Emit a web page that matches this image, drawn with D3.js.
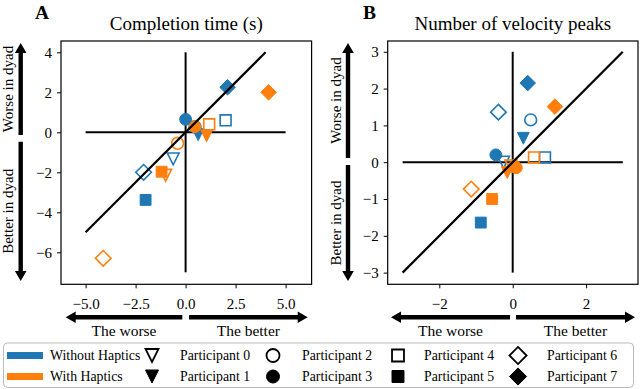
<!DOCTYPE html>
<html><head><meta charset="utf-8">
<script src="https://cdn.jsdelivr.net/npm/d3@7"></script>
<style>
body{margin:0;background:#fff}
svg{display:block;font-family:"Liberation Serif","Times New Roman",serif}
</style></head><body>
<svg id="c" width="640" height="389"></svg>
<script>
// ---- data ----
const participants = ["Participant 0","Participant 1","Participant 2","Participant 3","Participant 4","Participant 5","Participant 6","Participant 7"];
const shapes = ["triangle","triangle","circle","circle","square","square","diamond","diamond"];
const filled = [false,true,false,true,false,true,false,true];
const conditions = ["Without Haptics","With Haptics"];
const condColors = ["#1f77b4","#ff7f0e"];

// Completion time (s)
const timeWithoutX = [-0.62, 0.63, 0.47, 0.00, 2.00, -2.00, -2.10, 2.10];
const timeWithoutY = [-1.33, -0.12, 0.28, 0.65, 0.60, -3.38, -2.00, 2.25];
const timeWithX    = [-1.00, 1.05, -0.40, 0.47, 1.18, -1.20, -4.12, 4.15];
const timeWithY    = [-2.15, -0.18, -0.55, 0.28, 0.40, -1.97, -6.30, 2.00];

// Number of velocity peaks
const peaksWithoutX = [-0.25, 0.29, 0.49, -0.46, 0.88, -0.87, -0.39, 0.41];
const peaksWithoutY = [0.00, 0.65, 1.15, 0.20, 0.13, -1.64, 1.36, 2.15];
const peaksWithX    = [-0.05, -0.15, 0.05, 0.10, 0.58, -0.56, -1.13, 1.15];
const peaksWithY    = [-0.10, -0.28, -0.12, -0.15, 0.13, -1.00, -0.73, 1.51];

const timeXTicks = [-5, -2.5, 0, 2.5, 5];
const timeYTicks = [-6, -4, -2, 0, 2, 4];
const peaksXTicks = [-2, 0, 2];
const peaksYTicks = [-3, -2, -1, 0, 1, 2, 3];

const panelLabels = ["A","B"];
const panelTitles = ["Completion time (s)","Number of velocity peaks"];
const axisArrowTexts = ["Worse in dyad","Better in dyad","The worse","The better"];

// ---- drawing ----
const svg = d3.select("#c");
const minus = s => String(s).replace("-", "\u2212");

function markerPath(shape, size){
  if(shape==="circle"){const p=d3.path();p.arc(0,0,size/2,0,2*Math.PI);p.closePath();return p.toString();}
  if(shape==="square"){const s=size*0.46;return `M${-s},${-s}L${s},${-s}L${s},${s}L${-s},${s}Z`;}
  if(shape==="diamond"){const s=size*0.66;return `M0,${-s}L${s},0L0,${s}L${-s},0Z`;}
  if(shape==="triangle"){const w=size*0.5;return `M${-w},${-w}L${w},${-w}L0,${w}Z`;}
}

function arrow(g, x1, y1, x2, y2){
  const dx=x2-x1, dy=y2-y1, L=Math.hypot(dx,dy), ux=dx/L, uy=dy/L, nx=-uy, ny=ux;
  const sw=2.2, hw=5.8, hl=10;
  const bx=x2-ux*hl, by=y2-uy*hl;
  const pts=[[x1+nx*sw,y1+ny*sw],[bx+nx*sw,by+ny*sw],[bx+nx*hw,by+ny*hw],[x2,y2],[bx-nx*hw,by-ny*hw],[bx-nx*sw,by-ny*sw],[x1-nx*sw,y1-ny*sw]];
  g.append("path").attr("d","M"+pts.map(p=>p.join(",")).join("L")+"Z").attr("fill","#000");
}

function drawPanel(cfg){
  const g = svg.append("g");
  const x = d3.scaleLinear().domain(cfg.xDomain).range([cfg.left, cfg.right]);
  const y = d3.scaleLinear().domain(cfg.yDomain).range([cfg.bottom, cfg.top]);

  const xa = g.append("g").attr("transform",`translate(0,${cfg.bottom})`)
    .call(d3.axisBottom(x).tickValues(cfg.xTicks).tickSize(4).tickPadding(10.5).tickFormat(cfg.xFmt));
  const ya = g.append("g").attr("transform",`translate(${cfg.left},0)`)
    .call(d3.axisLeft(y).tickValues(cfg.yTicks).tickSize(4).tickPadding(5).tickFormat(d=>minus(d)));
  [xa,ya].forEach(a=>{
    a.select(".domain").remove();
    a.selectAll("text").attr("font-size",15).attr("fill","#000").attr("font-family","Liberation Serif");
    a.selectAll("line").attr("stroke","#000").attr("stroke-width",1);
  });

  g.append("line").attr("x1",x(cfg.hLine[0])).attr("x2",x(cfg.hLine[1])).attr("y1",y(0)).attr("y2",y(0))
    .attr("stroke","#000").attr("stroke-width",2);
  g.append("line").attr("x1",x(0)).attr("x2",x(0)).attr("y1",y(cfg.vLine[0])).attr("y2",y(cfg.vLine[1]))
    .attr("stroke","#000").attr("stroke-width",2);

  const series = [[cfg.wox,cfg.woy],[cfg.wx,cfg.wy]];
  series.forEach((s,ci)=>{
    participants.forEach((p,i)=>{
      const isF = filled[i];
      g.append("path").attr("d",markerPath(shapes[i], 11.8))
        .attr("transform",`translate(${x(s[0][i])},${y(s[1][i])})`)
        .attr("fill", isF?condColors[ci]:"none")
        .attr("stroke", condColors[ci]).attr("stroke-width", isF?1:1.6);
    });
  });

  g.append("line").attr("x1",x(cfg.diag[0])).attr("y1",y(cfg.diag[0])).attr("x2",x(cfg.diag[1])).attr("y2",y(cfg.diag[1]))
    .attr("stroke","#000").attr("stroke-width",2.2);

  g.append("rect").attr("x",cfg.left).attr("y",cfg.top).attr("width",cfg.right-cfg.left).attr("height",cfg.bottom-cfg.top)
    .attr("fill","none").attr("stroke","#000").attr("stroke-width",1.2);

  g.append("text").attr("x",(cfg.left+cfg.right)/2).attr("y",30).attr("text-anchor","middle").attr("font-size",19).text(cfg.title);
  g.append("text").attr("x",cfg.letterX).attr("y",18.5).attr("font-size",19.5).attr("font-weight","bold").text(cfg.letter);

  arrow(g, cfg.arrowX, cfg.gapTop, cfg.arrowX, cfg.upTip);
  arrow(g, cfg.arrowX, cfg.gapBottom, cfg.arrowX, cfg.downTip);
  const tx = cfg.arrowX-12.5;
  g.append("text").attr("transform",`translate(${tx},${(cfg.gapTop+cfg.upTip)/2}) rotate(-90)`)
    .attr("text-anchor","middle").attr("dominant-baseline","central").attr("font-size",15).text(axisArrowTexts[0]);
  g.append("text").attr("transform",`translate(${tx},${(cfg.gapBottom+cfg.downTip)/2}) rotate(-90)`)
    .attr("text-anchor","middle").attr("dominant-baseline","central").attr("font-size",15).text(axisArrowTexts[1]);

  const ay = 317.3;
  arrow(g, cfg.hArrow[1], ay, cfg.hArrow[0], ay);
  arrow(g, cfg.hArrow[2], ay, cfg.hArrow[3], ay);
  g.append("text").attr("x",(cfg.hArrow[0]+cfg.hArrow[1])/2).attr("y",336).attr("text-anchor","middle").attr("font-size",15.5).text(axisArrowTexts[2]);
  g.append("text").attr("x",(cfg.hArrow[2]+cfg.hArrow[3])/2).attr("y",336).attr("text-anchor","middle").attr("font-size",15.5).text(axisArrowTexts[3]);
}

drawPanel({
  left:61, right:311.6, top:41, bottom:284.3,
  xDomain:[-6.23,6.3], yDomain:[-7.6,4.565],
  xTicks:timeXTicks, yTicks:timeYTicks, xFmt:d=>minus(d3.format(".1f")(d)),
  hLine:[-5,5], vLine:[-7,4], diag:[-5,4],
  wox:timeWithoutX, woy:timeWithoutY, wx:timeWithX, wy:timeWithY,
  title:panelTitles[0], letter:panelLabels[0], letterX:35,
  arrowX:20.7, upTip:43, gapTop:135, gapBottom:141.7, downTip:281,
  hArrow:[65.7,182.3,189,307.7]
});
drawPanel({
  left:387.7, right:638, top:41, bottom:284.3,
  xDomain:[-3.406,3.414], yDomain:[-3.317,3.293],
  xTicks:peaksXTicks, yTicks:peaksYTicks, xFmt:d=>minus(d),
  hLine:[-3,3], vLine:[-3,3], diag:[-3,3],
  wox:peaksWithoutX, woy:peaksWithoutY, wx:peaksWithX, wy:peaksWithY,
  title:panelTitles[1], letter:panelLabels[1], letterX:363,
  arrowX:348, upTip:43, gapTop:158, gapBottom:165, downTip:281,
  hArrow:[391,510,516,635]
});

// ---- legend ----
const lg = svg.append("g");
lg.append("rect").attr("x",3.5).attr("y",343).attr("width",630).attr("height",44.5).attr("rx",4)
  .attr("fill","#fff").attr("stroke","#bbb").attr("stroke-width",1);
const rowY = [355.5, 376.5];
conditions.forEach((c,i)=>{
  lg.append("rect").attr("x",7).attr("y",rowY[i]-3.5).attr("width",36).attr("height",7).attr("fill",condColors[i]);
  lg.append("text").attr("x",50).attr("y",rowY[i]).attr("dominant-baseline","central").attr("font-size",13.8).text(c);
});
const colMarkerX = [152, 273, 398, 518];
const colTextX = [180, 302, 424, 547];
participants.forEach((p,i)=>{
  const col = Math.floor(i/2), row = i%2;
  lg.append("path").attr("d",markerPath(shapes[i],13))
    .attr("transform",`translate(${colMarkerX[col]},${rowY[row]})`)
    .attr("fill", filled[i]?"#000":"none").attr("stroke","#000").attr("stroke-width",filled[i]?1:1.8);
  lg.append("text").attr("x",colTextX[col]).attr("y",rowY[row]).attr("dominant-baseline","central").attr("font-size",13.8).text(p);
});
</script>
</body></html>
